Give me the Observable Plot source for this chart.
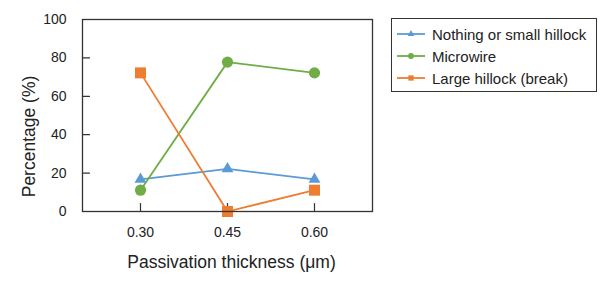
<!DOCTYPE html>
<html>
<head>
<meta charset="utf-8">
<script src="https://cdn.jsdelivr.net/npm/d3@7"></script>
<script src="https://cdn.jsdelivr.net/npm/@observablehq/plot@0.6"></script>
<style>
  html, body { margin: 0; padding: 0; background: #fff; }
  #wrap { position: relative; width: 609px; height: 284px; font-family: "Liberation Sans", Arial, sans-serif; }
  #legend { position: absolute; left: 391px; top: 18px; width: 204px; height: 72px; border: 1.3px solid #333; box-sizing: content-box; }
  .row { position: absolute; left: 0; height: 20px; display: flex; align-items: center; font-size: 15px; color: #222; }
  .row svg { margin-left: 5px; margin-right: 7px; }
</style>
</head>
<body>
<div id="wrap"></div>
<script>
const thickness = [0.30, 0.45, 0.60];
const seriesNames = ["Nothing or small hillock", "Microwire", "Large hillock (break)"];
const nothingSmall = [16.7, 22.2, 16.7];
const microwire = [11.1, 77.8, 72.2];
const largeHillock = [72.2, 0, 11.1];
const seriesColors = ["#5B9BD5", "#70AD47", "#ED7D31"];
const seriesSymbols = ["triangle", "circle", "square"];
const symbolR = [4.4, 5.6, 6.2];
const yTicks = [0, 20, 40, 60, 80, 100];
const xLabel = "Passivation thickness (μm)";
const yLabel = "Percentage (%)";

const seriesValues = [nothingSmall, microwire, largeHillock];
const rows = seriesValues.flatMap((vals, i) =>
  vals.map((v, j) => ({x: thickness[j], y: v, series: seriesNames[i]})));

const fmt = d3.format(".2f");
const tickShape = {draw(context, l) { context.moveTo(0, 0); context.lineTo(0, -l); }};

const chart = Plot.plot({
  width: 609,
  height: 284,
  marginLeft: 82,
  marginRight: 237,
  marginTop: 19,
  marginBottom: 73,
  style: {fontFamily: "'Liberation Sans', Arial, sans-serif", color: "#333", background: "#fff"},
  x: {domain: [0.2, 0.7]},
  y: {domain: [0, 100]},
  color: {domain: seriesNames, range: seriesColors},
  marks: [
    Plot.axisX(thickness, {tickSize: 0, tickPadding: 16, tickFormat: fmt, fontSize: 14, label: null, fill: "#222"}),
    Plot.axisY(yTicks, {tickSize: 0, tickPadding: 16, fontSize: 14, label: null, fill: "#222"}),
    Plot.vector(thickness, {x: d => d, frameAnchor: "bottom", length: 8, rotate: 0, anchor: "start", shape: tickShape, stroke: "#333", strokeWidth: 1.2}),
    Plot.vector(yTicks, {y: d => d, frameAnchor: "left", length: 7, rotate: 90, anchor: "start", shape: tickShape, stroke: "#333", strokeWidth: 1.2}),
    Plot.line(rows, {x: "x", y: "y", z: "series", stroke: "series", strokeWidth: 1.8}),
    ...seriesNames.map((name, i) =>
      Plot.dot(rows.filter(d => d.series === name), {
        x: "x", y: "y", symbol: () => seriesSymbols[i], r: symbolR[i], fill: seriesColors[i], stroke: "none"
      })),
    Plot.frame({stroke: "#333", strokeWidth: 1.3}),
    Plot.text([xLabel], {frameAnchor: "bottom", lineAnchor: "middle", textAnchor: "middle", dy: 51, dx: 4, fontSize: 17.5, fill: "#222"}),
    Plot.text([yLabel], {frameAnchor: "left", lineAnchor: "middle", textAnchor: "middle", dx: -53, dy: 21, rotate: -90, fontSize: 17.5, fill: "#222"})
  ]
});

const wrap = document.getElementById("wrap");
wrap.appendChild(chart);

const legend = document.createElement("div");
legend.id = "legend";
const rowTops = [5, 27, 49];
seriesNames.forEach((name, i) => {
  const row = document.createElement("div");
  row.className = "row";
  row.style.top = rowTops[i] + "px";
  const s = d3.create("svg").attr("width", 28).attr("height", 20);
  s.append("line").attr("x1", 0).attr("x2", 28).attr("y1", 10).attr("y2", 10)
    .attr("stroke", seriesColors[i]).attr("stroke-width", 1.8);
  const symType = {triangle: d3.symbolTriangle, circle: d3.symbolCircle, square: d3.symbolSquare}[seriesSymbols[i]];
  s.append("path").attr("transform", "translate(14,10)")
    .attr("d", d3.symbol(symType, [20, 28, 28][i])()).attr("fill", seriesColors[i]);
  row.appendChild(s.node());
  const t = document.createElement("span");
  t.textContent = name;
  row.appendChild(t);
  legend.appendChild(row);
});
wrap.appendChild(legend);
</script>
</body>
</html>
